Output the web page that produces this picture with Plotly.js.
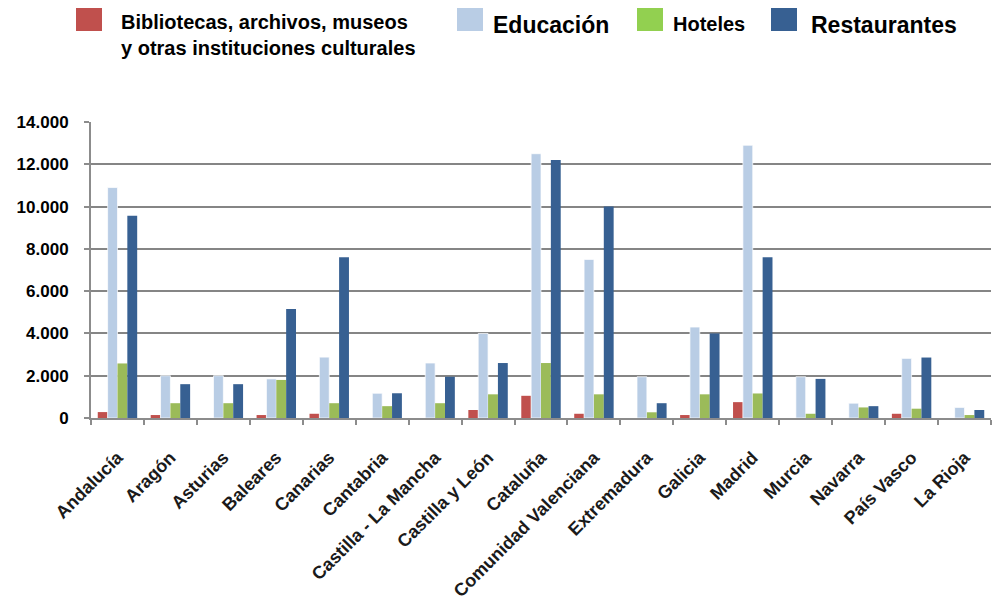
<!DOCTYPE html>
<html>
<head>
<meta charset="utf-8">
<script src="https://cdn.plot.ly/plotly-3.0.1.min.js"></script>
<style>html,body{margin:0;padding:0;background:#fff;}#chart{width:996px;height:601px;}</style>
</head>
<body>
<div id="chart"></div>
<script>
const categories = ["Andalucía","Aragón","Asturias","Baleares","Canarias","Cantabria","Castilla - La Mancha","Castilla y León","Cataluña","Comunidad Valenciana","Extremadura","Galicia","Madrid","Murcia","Navarra","País Vasco","La Rioja"];
const seriesNames = ["Bibliotecas, archivos, museos<br>y otras instituciones culturales","Educación","Hoteles","Restaurantes"];
const bibliotecas = [280,140,0,140,200,0,0,380,1050,200,0,140,750,0,0,200,0];
const educacion = [10900,2000,2000,1850,2880,1170,2600,4000,12500,7500,1950,4300,12900,1950,700,2820,500];
const hoteles = [2580,700,700,1800,700,560,700,1120,2600,1120,270,1120,1160,200,500,440,140];
const restaurantes = [9570,1600,1600,5150,7600,1170,1950,2600,12200,10000,700,4000,7600,1850,560,2860,380];
const yTickVals = [0,2000,4000,6000,8000,10000,12000,14000];

const barColors = ["#C0504D","#B9CDE5","#9BBB59","#376092"];
const legendColors = ["#C0504D","#B9CDE5","#92D050","#376092"];
const FONT = "Liberation Sans, Arial, sans-serif";

const M = {l:91, r:5, t:122, b:183};
const PW = 996 - M.l - M.r, PH = 601 - M.t - M.b;
const px = x => (x - M.l) / PW;
const py = y => (601 - M.b - y) / PH;

const allSeries = [bibliotecas, educacion, hoteles, restaurantes];
const traces = allSeries.map((vals, i) => ({
  type: 'bar', x: categories, y: vals, name: seriesNames[i],
  marker: {color: barColors[i], line: {color: i === 1 ? 'rgba(255,255,255,0.7)' : barColors[i], width: i === 1 ? 1 : 0}},
  hoverinfo: 'x+y'
}));

// legend drawn manually
const legSquares = [76, 457, 637, 771];
const legText = [
  {x:119, y:35, size:20, text:"Bibliotecas, archivos, museos<br>y otras instituciones culturales"},
  {x:491, y:25, size:23, text:"Educación"},
  {x:671, y:24, size:20, text:"Hoteles"},
  {x:809, y:25, size:23, text:"Restaurantes"}
];
const shapes = legSquares.map((x0, i) => ({
  type:'rect', xref:'paper', yref:'paper', x0:px(x0), x1:px(x0+26), y0:py(31), y1:py(8),
  fillcolor: legendColors[i], line:{width:0}
}));
const annotations = legText.map(t => ({
  xref:'paper', yref:'paper', x:px(t.x), y:py(t.y), xanchor:'left', yanchor:'middle', align:'left',
  showarrow:false, text:t.text, font:{family:FONT, size:t.size, color:'#000', weight:'bold'}
}));

const layout = {
  width:996, height:601,
  margin:{l:M.l, r:M.r, t:M.t, b:M.b, pad:0},
  paper_bgcolor:'#fff', plot_bgcolor:'#fff',
  separators: ',.',
  barmode:'group', bargap:0.255, bargroupgap:0,
  showlegend:false,
  xaxis:{
    type:'category', tickangle:-45, tickson:'boundaries', ticks:'outside', ticklen:5, tickwidth:2, tickcolor:'#8c8c8c',
    showline:true, linecolor:'#8c8c8c', linewidth:2, showgrid:false, zeroline:false,
    tickfont:{family:FONT, size:18, color:'#1a1a1a', weight:'bold'}, ticklabelstandoff:20, automargin:false
  },
  yaxis:{
    range:[0,14000], tickvals:yTickVals, tickformat:',d', ticks:'outside', ticklen:5, tickwidth:2, tickcolor:'#8c8c8c',
    showline:true, linecolor:'#8c8c8c', linewidth:2, showgrid:true, gridcolor:'#858585', gridwidth:2, zeroline:false,
    tickfont:{family:FONT, size:17, color:'#000', weight:'bold'}, ticklabelstandoff:12, automargin:false
  },
  shapes: shapes,
  annotations: annotations
};

Plotly.newPlot('chart', traces, layout, {displayModeBar:false, staticPlot:true});
</script>
</body>
</html>
